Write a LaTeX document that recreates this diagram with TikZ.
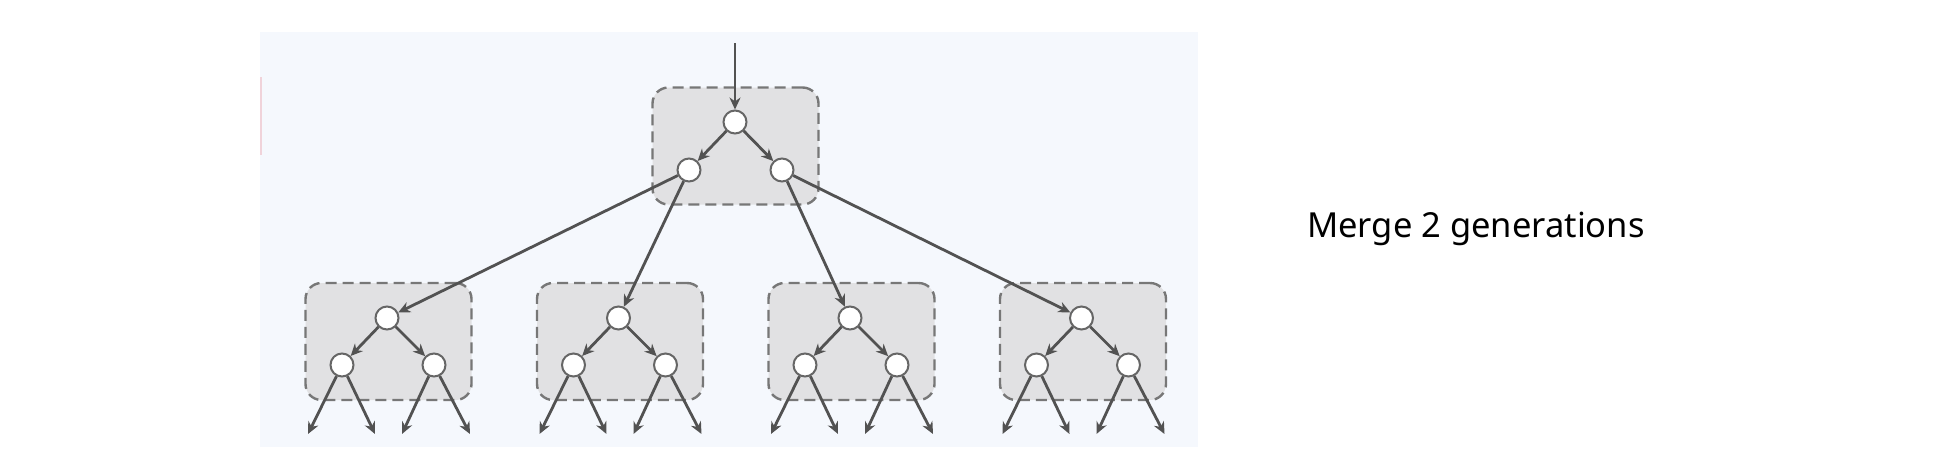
\documentclass[tikz,border=0pt]{standalone}
\usepackage{fontspec}
\setmainfont{Noto Sans}
\usetikzlibrary{arrows.meta}
\definecolor{panelbg}{HTML}{F5F8FD}
\definecolor{boxfill}{HTML}{E1E1E3}
\definecolor{boxline}{HTML}{777777}
\definecolor{arrowc}{HTML}{525252}
\definecolor{nodeline}{HTML}{666666}
\definecolor{pinkedge}{HTML}{F0D3DA}
\begin{document}
\begin{tikzpicture}[x=1pt,y=-1pt,
  vert/.style={circle,draw=nodeline,line width=2pt,fill=white,minimum size=23pt,inner sep=0pt},
  grp/.style={draw=boxline,fill=boxfill,dash pattern=on 11pt off 6pt,line width=2.4pt,rounded corners=16pt,minimum width=166pt,minimum height=117pt,inner sep=0pt},
  edge/.style={draw=arrowc,line width=2.8pt,-{Stealth[length=12pt,width=11pt]}},
]
\useasboundingbox (0,0) rectangle (1958,464);
\fill[panelbg] (260,32) rectangle (1198,447);
\draw[pinkedge,line width=2pt] (261,77) -- (261,155);
% top group
\node[grp] (g0) at (735.5,146) {};
\node[vert] (t0) at (735,122) {};
\node[vert] (l0) at (689,170) {};
\node[vert] (r0) at (782,170) {};
\coordinate (in) at (735,43);
% bottom groups
\foreach \k in {1,2,3,4}{
  \pgfmathsetmacro{\cx}{387+231.5*(\k-1)}
  \node[grp] (g\k) at (\cx+1.5,341.5) {};
  \node[vert] (t\k) at (\cx,318) {};
  \node[vert] (l\k) at (\cx-45,365) {};
  \node[vert] (r\k) at (\cx+47,365) {};
  \coordinate (a\k) at (\cx-79,434);
  \coordinate (b\k) at (\cx-12,434);
  \coordinate (c\k) at (\cx+15,434);
  \coordinate (d\k) at (\cx+83,434);
}
% edges
\draw[edge] (in) -- (t0);
\draw[edge] (t0) -- (l0);
\draw[edge] (t0) -- (r0);
\draw[edge] (l0) -- (t1);
\draw[edge] (l0) -- (t2);
\draw[edge] (r0) -- (t3);
\draw[edge] (r0) -- (t4);
\foreach \k in {1,2,3,4}{
  \draw[edge] (t\k) -- (l\k);
  \draw[edge] (t\k) -- (r\k);
  \draw[edge] (l\k) -- (a\k);
  \draw[edge] (l\k) -- (b\k);
  \draw[edge] (r\k) -- (c\k);
  \draw[edge] (r\k) -- (d\k);
}
\node[anchor=base west,inner sep=0pt,font=\fontsize{34.5}{41}\selectfont] (lbl) at (1307,237) {Merge 2 generations};
\end{tikzpicture}
\end{document}
